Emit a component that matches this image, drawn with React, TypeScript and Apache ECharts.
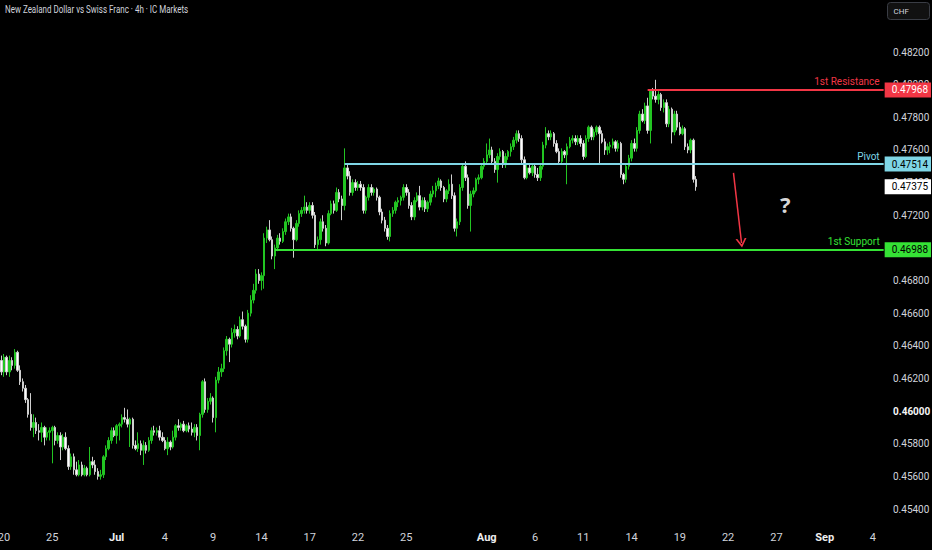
import { useEffect, useRef } from 'react'
import * as echarts from 'echarts'

const chartTitle = 'New Zealand Dollar vs Swiss Franc · 4h · IC Markets'

// 4h candles from 19 Jun 2025 20:00: [open, close, low, high]
const candles: number[][] = [
  [0.4631, 0.4624, 0.4622, 0.4634], [0.4624, 0.4633, 0.4621, 0.4635], [0.4633, 0.4624, 0.4622, 0.4634], [0.4624, 0.4631, 0.4621, 0.4634],
  [0.4631, 0.4628, 0.4625, 0.4633], [0.4628, 0.4636, 0.4626, 0.4638], [0.4636, 0.4625, 0.4624, 0.4637], [0.4625, 0.4618, 0.4616, 0.4628],
  [0.4618, 0.4614, 0.4612, 0.4620], [0.4614, 0.4607, 0.4605, 0.4616], [0.4607, 0.4598, 0.4596, 0.4608], [0.4598, 0.4590, 0.4588, 0.4611],
  [0.4590, 0.4593, 0.4584, 0.4598], [0.4593, 0.4588, 0.4586, 0.4596], [0.4588, 0.4587, 0.4582, 0.4592], [0.4587, 0.4590, 0.4581, 0.4593],
  [0.4590, 0.4584, 0.4579, 0.4591], [0.4584, 0.4587, 0.4582, 0.4590], [0.4587, 0.4588, 0.4582, 0.4590], [0.4588, 0.4590, 0.4568, 0.4591],
  [0.4590, 0.4582, 0.4579, 0.4591], [0.4582, 0.4585, 0.4580, 0.4587], [0.4585, 0.4578, 0.4570, 0.4587], [0.4578, 0.4584, 0.4576, 0.4586],
  [0.4584, 0.4577, 0.4576, 0.4587], [0.4577, 0.4566, 0.4564, 0.4579], [0.4566, 0.4572, 0.4564, 0.4574], [0.4572, 0.4564, 0.4561, 0.4574],
  [0.4564, 0.4561, 0.4560, 0.4569], [0.4561, 0.4567, 0.4560, 0.4570], [0.4567, 0.4561, 0.4560, 0.4569], [0.4561, 0.4565, 0.4560, 0.4567],
  [0.4565, 0.4561, 0.4560, 0.4566], [0.4561, 0.4569, 0.4560, 0.4578], [0.4569, 0.4567, 0.4565, 0.4572], [0.4567, 0.4563, 0.4561, 0.4570],
  [0.4563, 0.4560, 0.4558, 0.4565], [0.4560, 0.4561, 0.4558, 0.4564], [0.4561, 0.4572, 0.4559, 0.4573], [0.4572, 0.4577, 0.4570, 0.4579],
  [0.4577, 0.4582, 0.4576, 0.4584], [0.4582, 0.4588, 0.4580, 0.4590], [0.4588, 0.4585, 0.4584, 0.4590], [0.4585, 0.4591, 0.4580, 0.4592],
  [0.4591, 0.4592, 0.4582, 0.4593], [0.4592, 0.4596, 0.4590, 0.4598], [0.4596, 0.4595, 0.4593, 0.4602], [0.4595, 0.4592, 0.4590, 0.4601],
  [0.4592, 0.4595, 0.4578, 0.4596], [0.4595, 0.4579, 0.4577, 0.4596], [0.4579, 0.4577, 0.4576, 0.4582], [0.4577, 0.4580, 0.4575, 0.4587],
  [0.4580, 0.4576, 0.4573, 0.4582], [0.4576, 0.4579, 0.4567, 0.4582], [0.4579, 0.4576, 0.4574, 0.4581], [0.4576, 0.4582, 0.4575, 0.4584],
  [0.4582, 0.4588, 0.4580, 0.4590], [0.4588, 0.4587, 0.4585, 0.4591], [0.4587, 0.4588, 0.4585, 0.4590], [0.4588, 0.4584, 0.4582, 0.4591],
  [0.4584, 0.4582, 0.4581, 0.4587], [0.4582, 0.4577, 0.4576, 0.4584], [0.4577, 0.4581, 0.4573, 0.4584], [0.4581, 0.4578, 0.4576, 0.4582],
  [0.4578, 0.4584, 0.4577, 0.4588], [0.4584, 0.4591, 0.4582, 0.4592], [0.4591, 0.4590, 0.4588, 0.4595], [0.4590, 0.4592, 0.4588, 0.4593],
  [0.4592, 0.4588, 0.4587, 0.4594], [0.4588, 0.4591, 0.4587, 0.4592], [0.4591, 0.4589, 0.4587, 0.4593], [0.4589, 0.4587, 0.4585, 0.4593],
  [0.4587, 0.4590, 0.4584, 0.4592], [0.4590, 0.4585, 0.4582, 0.4592], [0.4585, 0.4598, 0.4576, 0.4599], [0.4598, 0.4618, 0.4596, 0.4619],
  [0.4618, 0.4601, 0.4599, 0.4620], [0.4601, 0.4606, 0.4599, 0.4608], [0.4606, 0.4608, 0.4604, 0.4611], [0.4608, 0.4596, 0.4593, 0.4609],
  [0.4596, 0.4619, 0.4587, 0.4621], [0.4619, 0.4624, 0.4617, 0.4627], [0.4624, 0.4626, 0.4621, 0.4629], [0.4626, 0.4637, 0.4624, 0.4639],
  [0.4637, 0.4644, 0.4634, 0.4646], [0.4644, 0.4641, 0.4630, 0.4645], [0.4641, 0.4648, 0.4639, 0.4651], [0.4648, 0.4650, 0.4645, 0.4653],
  [0.4650, 0.4646, 0.4644, 0.4652], [0.4646, 0.4656, 0.4645, 0.4658], [0.4656, 0.4652, 0.4650, 0.4661], [0.4652, 0.4644, 0.4642, 0.4653],
  [0.4644, 0.4660, 0.4642, 0.4662], [0.4660, 0.4668, 0.4658, 0.4671], [0.4668, 0.4674, 0.4666, 0.4678], [0.4674, 0.4684, 0.4672, 0.4687],
  [0.4684, 0.4680, 0.4678, 0.4687], [0.4680, 0.4683, 0.4674, 0.4685], [0.4683, 0.4706, 0.4675, 0.4709], [0.4706, 0.4711, 0.4703, 0.4713],
  [0.4711, 0.4705, 0.4704, 0.4717], [0.4705, 0.4695, 0.4693, 0.4707], [0.4695, 0.4700, 0.4687, 0.4702], [0.4700, 0.4706, 0.4698, 0.4708],
  [0.4706, 0.4704, 0.4702, 0.4709], [0.4704, 0.4710, 0.4703, 0.4712], [0.4710, 0.4716, 0.4708, 0.4718], [0.4716, 0.4719, 0.4714, 0.4721],
  [0.4719, 0.4712, 0.4710, 0.4721], [0.4712, 0.4705, 0.4694, 0.4713], [0.4705, 0.4715, 0.4704, 0.4717], [0.4715, 0.4721, 0.4713, 0.4723],
  [0.4721, 0.4723, 0.4719, 0.4725], [0.4723, 0.4725, 0.4721, 0.4732], [0.4725, 0.4723, 0.4721, 0.4728], [0.4723, 0.4726, 0.4721, 0.4728],
  [0.4726, 0.4720, 0.4718, 0.4728], [0.4720, 0.4702, 0.4700, 0.4722], [0.4702, 0.4705, 0.4699, 0.4707], [0.4705, 0.4716, 0.4702, 0.4718],
  [0.4716, 0.4712, 0.4710, 0.4720], [0.4712, 0.4703, 0.4701, 0.4714], [0.4703, 0.4721, 0.4702, 0.4723], [0.4721, 0.4727, 0.4720, 0.4729],
  [0.4727, 0.4723, 0.4721, 0.4729], [0.4723, 0.4734, 0.4722, 0.4737], [0.4734, 0.4730, 0.4728, 0.4736], [0.4730, 0.4726, 0.4717, 0.4732],
  [0.4726, 0.4749, 0.4723, 0.4761], [0.4749, 0.4744, 0.4742, 0.4752], [0.4744, 0.4734, 0.4732, 0.4747], [0.4734, 0.4740, 0.4732, 0.4742],
  [0.4740, 0.4737, 0.4735, 0.4742], [0.4737, 0.4739, 0.4735, 0.4741], [0.4739, 0.4737, 0.4735, 0.4741], [0.4737, 0.4723, 0.4721, 0.4739],
  [0.4723, 0.4731, 0.4721, 0.4732], [0.4731, 0.4737, 0.4729, 0.4739], [0.4737, 0.4734, 0.4732, 0.4739], [0.4734, 0.4736, 0.4732, 0.4737],
  [0.4736, 0.4731, 0.4729, 0.4737], [0.4731, 0.4722, 0.4720, 0.4732], [0.4722, 0.4717, 0.4715, 0.4724], [0.4717, 0.4712, 0.4710, 0.4719],
  [0.4712, 0.4707, 0.4705, 0.4714], [0.4707, 0.4721, 0.4704, 0.4723], [0.4721, 0.4723, 0.4719, 0.4725], [0.4723, 0.4728, 0.4721, 0.4729],
  [0.4728, 0.4729, 0.4725, 0.4731], [0.4729, 0.4731, 0.4726, 0.4732], [0.4731, 0.4737, 0.4729, 0.4739], [0.4737, 0.4734, 0.4732, 0.4739],
  [0.4734, 0.4726, 0.4724, 0.4736], [0.4726, 0.4719, 0.4717, 0.4728], [0.4719, 0.4729, 0.4717, 0.4731], [0.4729, 0.4732, 0.4728, 0.4734],
  [0.4732, 0.4725, 0.4723, 0.4738], [0.4725, 0.4729, 0.4723, 0.4731], [0.4729, 0.4724, 0.4722, 0.4731], [0.4724, 0.4728, 0.4722, 0.4729],
  [0.4728, 0.4733, 0.4726, 0.4735], [0.4733, 0.4735, 0.4731, 0.4738], [0.4735, 0.4738, 0.4731, 0.4740], [0.4738, 0.4741, 0.4736, 0.4743],
  [0.4741, 0.4737, 0.4735, 0.4742], [0.4737, 0.4730, 0.4728, 0.4738], [0.4730, 0.4735, 0.4728, 0.4736], [0.4735, 0.4739, 0.4733, 0.4742],
  [0.4739, 0.4732, 0.4730, 0.4745], [0.4732, 0.4712, 0.4710, 0.4734], [0.4712, 0.4716, 0.4707, 0.4718], [0.4716, 0.4737, 0.4714, 0.4739],
  [0.4737, 0.4750, 0.4735, 0.4752], [0.4750, 0.4743, 0.4741, 0.4753], [0.4743, 0.4726, 0.4724, 0.4745], [0.4726, 0.4733, 0.4710, 0.4735],
  [0.4733, 0.4735, 0.4731, 0.4737], [0.4735, 0.4742, 0.4734, 0.4743], [0.4742, 0.4743, 0.4739, 0.4745], [0.4743, 0.4750, 0.4742, 0.4752],
  [0.4750, 0.4753, 0.4748, 0.4755], [0.4753, 0.4757, 0.4751, 0.4764], [0.4757, 0.4760, 0.4755, 0.4767], [0.4760, 0.4753, 0.4751, 0.4762],
  [0.4753, 0.4748, 0.4746, 0.4755], [0.4748, 0.4756, 0.4740, 0.4758], [0.4756, 0.4759, 0.4754, 0.4761], [0.4759, 0.4751, 0.4749, 0.4760],
  [0.4751, 0.4756, 0.4749, 0.4758], [0.4756, 0.4759, 0.4754, 0.4760], [0.4759, 0.4762, 0.4756, 0.4764], [0.4762, 0.4766, 0.4760, 0.4768],
  [0.4766, 0.4770, 0.4764, 0.4772], [0.4770, 0.4767, 0.4765, 0.4772], [0.4767, 0.4754, 0.4752, 0.4769], [0.4754, 0.4743, 0.4742, 0.4756],
  [0.4743, 0.4749, 0.4742, 0.4751], [0.4749, 0.4746, 0.4745, 0.4751], [0.4746, 0.4750, 0.4744, 0.4751], [0.4750, 0.4745, 0.4743, 0.4751],
  [0.4745, 0.4743, 0.4741, 0.4749], [0.4743, 0.4750, 0.4741, 0.4751], [0.4750, 0.4763, 0.4748, 0.4765], [0.4763, 0.4770, 0.4761, 0.4774],
  [0.4770, 0.4768, 0.4766, 0.4772], [0.4768, 0.4770, 0.4766, 0.4772], [0.4770, 0.4764, 0.4762, 0.4771], [0.4764, 0.4759, 0.4758, 0.4766],
  [0.4759, 0.4753, 0.4751, 0.4761], [0.4753, 0.4759, 0.4751, 0.4761], [0.4759, 0.4757, 0.4755, 0.4760], [0.4757, 0.4762, 0.4739, 0.4764],
  [0.4762, 0.4766, 0.4761, 0.4768], [0.4766, 0.4767, 0.4764, 0.4769], [0.4767, 0.4765, 0.4763, 0.4769], [0.4765, 0.4767, 0.4763, 0.4769],
  [0.4767, 0.4764, 0.4762, 0.4769], [0.4764, 0.4756, 0.4754, 0.4766], [0.4756, 0.4767, 0.4755, 0.4769], [0.4767, 0.4774, 0.4765, 0.4775],
  [0.4774, 0.4768, 0.4766, 0.4775], [0.4768, 0.4771, 0.4766, 0.4773], [0.4771, 0.4774, 0.4769, 0.4775], [0.4774, 0.4770, 0.4752, 0.4775],
  [0.4770, 0.4765, 0.4764, 0.4772], [0.4765, 0.4760, 0.4757, 0.4767], [0.4760, 0.4762, 0.4757, 0.4764], [0.4762, 0.4763, 0.4758, 0.4765],
  [0.4763, 0.4765, 0.4761, 0.4767], [0.4765, 0.4761, 0.4759, 0.4766], [0.4761, 0.4764, 0.4759, 0.4766], [0.4764, 0.4745, 0.4743, 0.4765],
  [0.4745, 0.4742, 0.4739, 0.4746], [0.4742, 0.4750, 0.4740, 0.4751], [0.4750, 0.4755, 0.4748, 0.4757], [0.4755, 0.4764, 0.4753, 0.4766],
  [0.4764, 0.4761, 0.4759, 0.4767], [0.4761, 0.4772, 0.4759, 0.4774], [0.4772, 0.4782, 0.4770, 0.4784], [0.4782, 0.4778, 0.4777, 0.4785],
  [0.4778, 0.4787, 0.4776, 0.4789], [0.4787, 0.4772, 0.4770, 0.4792], [0.4772, 0.4796, 0.4764, 0.4797], [0.4796, 0.4793, 0.4791, 0.4798],
  [0.4793, 0.4791, 0.4789, 0.4803], [0.4791, 0.4794, 0.4788, 0.4796], [0.4794, 0.4786, 0.4784, 0.4795], [0.4786, 0.4789, 0.4783, 0.4791],
  [0.4789, 0.4776, 0.4774, 0.4791], [0.4776, 0.4785, 0.4774, 0.4787], [0.4785, 0.4771, 0.4764, 0.4786], [0.4771, 0.4782, 0.4769, 0.4784],
  [0.4782, 0.4774, 0.4772, 0.4784], [0.4774, 0.4770, 0.4769, 0.4777], [0.4770, 0.4773, 0.4769, 0.4775], [0.4773, 0.4762, 0.4760, 0.4774],
  [0.4762, 0.4760, 0.4758, 0.4764], [0.4760, 0.4766, 0.4758, 0.4767], [0.4766, 0.4742, 0.4740, 0.4767], [0.4742, 0.47375, 0.4735, 0.4744]
]

// bottom axis labels: trading day -> text
const dateTicks: [string, string][] = [
  ['2025-06-20', '20'], ['2025-06-25', '25'], ['2025-07-01', 'Jul'], ['2025-07-04', '4'],
  ['2025-07-09', '9'], ['2025-07-14', '14'], ['2025-07-17', '17'], ['2025-07-22', '22'],
  ['2025-07-25', '25'], ['2025-08-01', 'Aug'], ['2025-08-06', '6'], ['2025-08-11', '11'],
  ['2025-08-14', '14'], ['2025-08-19', '19'], ['2025-08-22', '22'], ['2025-08-27', '27'],
  ['2025-09-01', 'Sep'], ['2025-09-04', '4']
]
const priceTicks = [0.454, 0.456, 0.458, 0.46, 0.462, 0.464, 0.466, 0.468, 0.47, 0.472, 0.474, 0.476, 0.478, 0.48, 0.482]

const levelNames = ['1st Resistance', 'Pivot', '1st Support']
const levelPrices = [0.47968, 0.47514, 0.46988]
const levelStarts = ['2025-08-15 00:00', '2025-07-21 04:00', '2025-07-14 20:00']

const arrowFrom: [string, number] = ['2025-08-22 08:00', 0.4746]
const arrowTo: [string, number] = ['2025-08-22 20:00', 0.4703]

const barCount = 330

const pad = (n: number) => String(n).padStart(2, '0')

// 4h bars, weekends skipped
function buildTimes(n: number) {
  const out: string[] = []
  let t = Date.UTC(2025, 5, 19, 20)
  while (out.length < n) {
    const d = new Date(t)
    const wd = d.getUTCDay()
    if (wd !== 0 && wd !== 6) {
      out.push(`${d.getUTCFullYear()}-${pad(d.getUTCMonth() + 1)}-${pad(d.getUTCDate())} ${pad(d.getUTCHours())}:00`)
    }
    t += 4 * 3600 * 1000
  }
  return out
}

const levelColors = ['#f23645', '#7fd6e6', '#35e235']
const levelTextColors = ['#ffffff', '#000000', '#000000']
const axisText = '#d1d4dc'

export default function App() {
  const chartRef = useRef<HTMLDivElement>(null)

  useEffect(() => {
    document.body.style.margin = '0'
    document.body.style.background = '#000'
    if (!chartRef.current) return
    const chart = echarts.init(chartRef.current, null, { renderer: 'svg' })

    const times = buildTimes(barCount)
    const lastTime = times[times.length - 1]
    const tickMap = new Map(dateTicks.map(([d, l]) => [d + ' 00:00', l]))
    const lastClose = candles[candles.length - 1][1]

    const levelLines = levelNames.map((name, i) => [
      {
        coord: [levelStarts[i], levelPrices[i]],
        lineStyle: { color: levelColors[i], width: 2, type: 'solid' },
        label: {
          show: true,
          position: 'insideEndTop',
          formatter: name,
          color: levelColors[i],
          fontSize: 10,
          fontFamily: 'Roboto',
          distance: [4, 3]
        }
      },
      { coord: [lastTime, levelPrices[i]] }
    ])

    const boxes = [
      ...levelPrices.map((p, i) => ({ p, bg: levelColors[i], fg: levelTextColors[i] })),
      { p: lastClose, bg: '#ffffff', fg: '#000000' }
    ]
    const priceBoxes = boxes.map(b => [
      {
        coord: [times[candles.length - 1], b.p],
        lineStyle: { width: 0, color: 'rgba(0,0,0,0)' },
        label: {
          show: true,
          position: 'end',
          formatter: b.p.toFixed(5),
          backgroundColor: b.bg,
          color: b.fg,
          fontSize: 10,
          fontFamily: 'Roboto',
          padding: [3, 3, 2, 7],
          distance: 1
        }
      },
      { coord: [lastTime, b.p] }
    ])

    const arrow = [
      {
        coord: arrowFrom,
        symbol: 'none',
        lineStyle: { color: '#f23645', width: 1.5, type: 'solid' },
        label: { show: false }
      },
      {
        coord: arrowTo,
        symbol: 'path://M0,10 L5,0 L10,10 L8.4,10 L5,3.2 L1.6,10 Z',
        symbolSize: [11, 9]
      }
    ]

    const option = {
      animation: false,
      backgroundColor: '#000000',
      grid: { left: 0, right: 47, top: 0, bottom: 25, outerBoundsMode: 'none', containLabel: false },
      xAxis: {
        type: 'category',
        data: times,
        boundaryGap: true,
        axisLine: { show: false },
        axisTick: { show: false },
        splitLine: { show: false },
        axisLabel: {
          interval: (_: number, v: string) => tickMap.has(v),
          formatter: (v: string) => {
            const l = tickMap.get(v) || ''
            return /^[A-Z]/.test(l) ? `{m|${l}}` : l
          },
          color: axisText,
          fontSize: 11,
          fontFamily: 'Roboto',
          margin: 7,
          rich: { m: { color: '#eeeeee', fontSize: 11, fontWeight: 'bold', fontFamily: 'Roboto' } }
        }
      },
      yAxis: {
        type: 'value',
        position: 'right',
        min: 0.45302,
        max: 0.48519,
        axisLine: { show: false },
        axisTick: { show: false },
        splitLine: { show: false },
        axisLabel: {
          customValues: priceTicks,
          formatter: (v: number) => (Math.abs(v - 0.46) < 1e-9 ? `{b|${v.toFixed(5)}}` : v.toFixed(5)),
          color: axisText,
          fontSize: 10,
          fontFamily: 'Roboto',
          margin: 8,
          rich: { b: { color: '#f5f5f5', fontSize: 10, fontWeight: 'bold', fontFamily: 'Roboto' } }
        }
      },
      series: [
        {
          type: 'candlestick',
          data: candles,
          barWidth: 2,
          itemStyle: {
            color: '#22c522',
            borderColor: '#22c522',
            color0: '#ffffff',
            borderColor0: '#cfcfcf',
            borderWidth: 1
          },
          markLine: {
            silent: true,
            symbol: ['none', 'none'],
            animation: false,
            data: [...levelLines, ...priceBoxes, arrow]
          }
        }
      ],
      graphic: [
        {
          type: 'text',
          x: 5,
          y: 5,
          scaleX: 0.8,
          style: { text: chartTitle, fill: axisText, font: '10px Roboto' }
        },
        {
          type: 'text',
          left: 780,
          top: 193,
          style: { text: '?', fill: '#d6d6d6', font: 'bold 22px "Noto Sans"' }
        },
        {
          type: 'group',
          left: 887,
          top: 2,
          children: [
            { type: 'rect', shape: { x: 0, y: 0, width: 42, height: 17, r: 3 }, style: { fill: '#111111', stroke: '#3a3d45', lineWidth: 1 } },
            { type: 'text', x: 6, y: 5, style: { text: 'CHF', fill: axisText, font: '8px Roboto' } }
          ]
        }
      ]
    }

    chart.setOption(option as any)
    return () => chart.dispose()
  }, [])

  return <div ref={chartRef} style={{ width: 932, height: 550, background: '#000' }} />
}
